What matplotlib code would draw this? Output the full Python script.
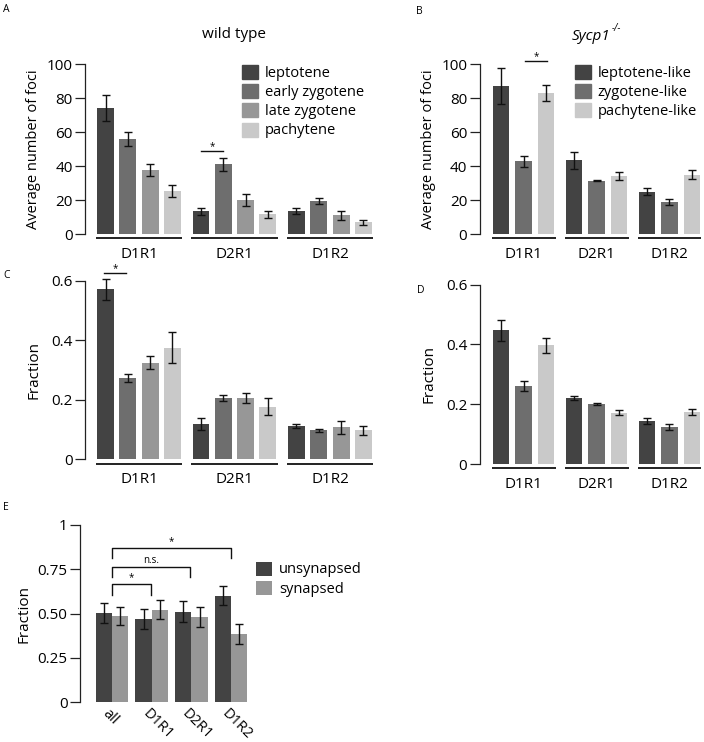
import matplotlib
matplotlib.use("Agg")
import matplotlib.pyplot as plt
import matplotlib.transforms as mtransforms
from matplotlib.patches import Patch
import numpy as np

plt.rcParams['font.family'] = ['Open Sans', 'DejaVu Sans']
plt.rcParams['font.size'] = 9.5

W, H = 704, 742

# ---------------- data ----------------
groups = ["D1R1", "D2R1", "D1R2"]

wt_stages = ["leptotene", "early zygotene", "late zygotene", "pachytene"]
wt_foci = [[74, 13.3, 13.7], [56, 41, 19.4], [37.8, 20, 11], [25.2, 11.7, 6.8]]
wt_foci_err = [[7.5, 2, 1.7], [4, 3.8, 2], [3.5, 3.4, 2.5], [3.5, 2, 1.7]]
wt_frac = [[0.571, 0.118, 0.112], [0.274, 0.206, 0.097], [0.325, 0.206, 0.108], [0.374, 0.177, 0.097]]
wt_frac_err = [[0.036, 0.02, 0.008], [0.013, 0.01, 0.005], [0.023, 0.018, 0.022], [0.052, 0.029, 0.015]]

mut_stages = ["leptotene-like", "zygotene-like", "pachytene-like"]
mut_foci = [[87.1, 43.4, 25], [42.9, 31.3, 18.8], [82.8, 34.2, 34.8]]
mut_foci_err = [[10.7, 5, 2.2], [3.2, 0.4, 2], [4.7, 2.2, 2.6]]
mut_frac = [[0.447, 0.222, 0.143], [0.261, 0.201, 0.124], [0.398, 0.172, 0.174]]
mut_frac_err = [[0.035, 0.007, 0.01], [0.016, 0.002, 0.01], [0.025, 0.008, 0.01]]

e_cats = ["all", "D1R1", "D2R1", "D1R2"]
e_series = ["unsynapsed", "synapsed"]
e_vals = [[0.504, 0.47, 0.511, 0.602], [0.487, 0.523, 0.483, 0.387]]
e_err = [[0.055, 0.055, 0.058, 0.056], [0.053, 0.055, 0.056, 0.056]]

wt_colors = ["#434343", "#6e6e6e", "#979797", "#c9c9c9"]
mut_colors = ["#434343", "#6e6e6e", "#c9c9c9"]
e_colors = ["#434343", "#979797"]

LEG_FS = 10.5
LAB_FS = 10.5

fig = plt.figure(figsize=(W / 100, H / 100), dpi=100)


def add_ax(left, top, bottom, width):
    return fig.add_axes([left / W, 1 - bottom / H, width / W, (bottom - top) / H])


def style_axis(ax, ylim, yticks, yticklabels):
    ax.set_ylim(*ylim)
    ax.set_yticks(yticks)
    ax.set_yticklabels(yticklabels)
    for s in ["top", "right", "bottom"]:
        ax.spines[s].set_visible(False)
    ax.spines["left"].set_linewidth(0.9)
    ax.spines["left"].set_color("#222222")
    ax.tick_params(axis="y", length=7, width=0.9, color="#222222", pad=2, labelsize=11)
    ax.patch.set_alpha(0)


def grouped(ax, vals, errs, colors, gstep, width, xlim):
    n = len(vals)
    trans = mtransforms.blended_transform_factory(ax.transData, ax.transAxes)
    for i in range(n):
        xs = np.arange(len(groups)) * gstep + i
        ax.bar(xs, vals[i], width=width, color=colors[i], clip_on=False, zorder=2)
        ax.errorbar(xs, vals[i], yerr=errs[i], fmt="none", ecolor="#111111",
                    elinewidth=1.0, capsize=2.6, capthick=1.0, clip_on=False, zorder=3)
    centers = np.arange(len(groups)) * gstep + (n - 1) / 2
    for c in centers:
        ax.plot([c - (n - 1) / 2 - width / 2 - 0.05, c + (n - 1) / 2 + width / 2 + 0.05],
                [-0.024, -0.024], transform=trans, color="#111111", lw=1.3,
                clip_on=False, solid_capstyle="butt")
    ax.set_xticks(centers)
    ax.set_xticklabels(groups)
    ax.tick_params(axis="x", length=0, pad=9, labelsize=11)
    ax.set_xlim(*xlim)
    return centers


def sig_line(ax, x0, x1, y, label, dy):
    ax.plot([x0, x1], [y, y], color="#111111", lw=1.0, clip_on=False)
    ax.text((x0 + x1) / 2, y + dy, label, ha="center", va="bottom", fontsize=7, clip_on=False)


def legend_at(ax, handles, x, y, spacing):
    ax.legend(handles=handles, loc="upper left", bbox_to_anchor=(x / W, 1 - y / H),
              bbox_transform=fig.transFigure, frameon=False, borderaxespad=0, borderpad=0,
              handlelength=1.1, handleheight=1.1, handletextpad=0.5,
              labelspacing=spacing, fontsize=LEG_FS)


# ---------------- Panel A ----------------
axA = add_ax(85, 64, 234, 290)
style_axis(axA, (0, 100), [0, 20, 40, 60, 80, 100], ["0", "20", "40", "60", "80", "100"])
gA = 4.28
grouped(axA, wt_foci, wt_foci_err, wt_colors, gA, 0.76, (-0.92, 12.08))
axA.set_ylabel("Average number of foci", fontsize=LAB_FS, labelpad=4)
sig_line(axA, gA + 0, gA + 1, 49, "*", -1)
legend_at(axA, [Patch(color=c, label=l) for c, l in zip(wt_colors, wt_stages)], 241.5, 65, 0.22)
fig.text(234 / W, 1 - 35 / H, "wild type", ha="center", va="center", fontsize=11)

# ---------------- Panel B ----------------
axB = add_ax(479.7, 64, 234, 224)
style_axis(axB, (0, 100), [0, 20, 40, 60, 80, 100], ["0", "20", "40", "60", "80", "100"])
gB = 3.24
grouped(axB, mut_foci, mut_foci_err, mut_colors, gB, 0.74, (-0.95, 9.0))
axB.set_ylabel("Average number of foci", fontsize=LAB_FS, labelpad=4)
sig_line(axB, 1.05, 2.05, 102, "*", -1)
legend_at(axB, [Patch(color=c, label=l) for c, l in zip(mut_colors, mut_stages)], 574.5, 65, 0.22)
t_sy = fig.text(572 / W, 1 - 36 / H, "Sycp1", ha="left", va="center", fontsize=11, style="italic")
fig.add_artist(matplotlib.text.Annotation("-/-", xy=(1.0, 0.62), xycoords=t_sy,
                                          xytext=(1, 0), textcoords="offset points",
                                          ha="left", va="bottom", fontsize=7, style="italic"))

# ---------------- Panel C ----------------
axC = add_ax(85, 280.7, 459.3, 290)
style_axis(axC, (0, 0.6), [0, 0.2, 0.4, 0.6], ["0", "0.2", "0.4", "0.6"])
grouped(axC, wt_frac, wt_frac_err, wt_colors, gA, 0.76, (-0.92, 12.08))
axC.set_ylabel("Fraction", fontsize=LAB_FS + 0.5, labelpad=7)
sig_line(axC, -0.05, 0.9, 0.627, "*", -0.006)

# ---------------- Panel D ----------------
axD = add_ax(479.7, 284.7, 464, 224)
style_axis(axD, (0, 0.6), [0, 0.2, 0.4, 0.6], ["0", "0.2", "0.4", "0.6"])
grouped(axD, mut_frac, mut_frac_err, mut_colors, gB, 0.74, (-0.95, 9.0))
axD.set_ylabel("Fraction", fontsize=LAB_FS + 0.5, labelpad=7)

# ---------------- Panel E ----------------
axE = add_ax(80, 525, 702.3, 170)
style_axis(axE, (0, 1), [0, 0.25, 0.5, 0.75, 1], ["0", "0.25", "0.50", "0.75", "1"])
wE = 0.41
xE = np.arange(len(e_cats))
for k in range(2):
    xs = xE + (k - 0.5) * wE
    axE.bar(xs, e_vals[k], width=wE, color=e_colors[k], label=e_series[k], clip_on=False, zorder=2)
    axE.errorbar(xs, e_vals[k], yerr=e_err[k], fmt="none", ecolor="#111111",
                 elinewidth=1.0, capsize=2.6, capthick=1.0, clip_on=False, zorder=3)
axE.set_xlim(-0.806, 3.476)
axE.set_xticks(xE)
axE.set_xticklabels(e_cats, rotation=-45, ha="left", va="center", rotation_mode="anchor", fontsize=10.5)
axE.tick_params(axis="x", length=0, pad=7)
off = mtransforms.ScaledTranslation(-7 / 100, 0, fig.dpi_scale_trans)
for lab in axE.get_xticklabels():
    lab.set_transform(lab.get_transform() + off)
axE.set_ylabel("Fraction", fontsize=LAB_FS + 0.5, labelpad=4)


def bracket(ax, x0, x1, ytop, ybot, label):
    ax.plot([x0, x0, x1, x1], [ybot, ytop, ytop, ybot], color="#111111", lw=1.0, clip_on=False)
    ax.text((x0 + x1) / 2, ytop + 0.005, label, ha="center", va="bottom", fontsize=7)


bracket(axE, 0, 0.97, 0.667, 0.605, "*")
bracket(axE, 0, 1.96, 0.765, 0.708, "n.s.")
bracket(axE, 0, 3.0, 0.868, 0.812, "*")
axE.legend(loc="upper left", bbox_to_anchor=(255.5 / W, 1 - 561.5 / H), bbox_transform=fig.transFigure,
           frameon=False, borderaxespad=0, borderpad=0, handlelength=1.1, handleheight=1.1,
           handletextpad=0.5, labelspacing=0.25, fontsize=LEG_FS)

# ---------------- panel letters ----------------
for letter, x, y in [("A", 3, 10), ("B", 416, 12), ("C", 3, 275), ("D", 417, 290), ("E", 3, 507)]:
    fig.text(x / W, 1 - y / H, letter, ha="left", va="center", fontsize=7.5)

fig.savefig("out.png", dpi=100)
